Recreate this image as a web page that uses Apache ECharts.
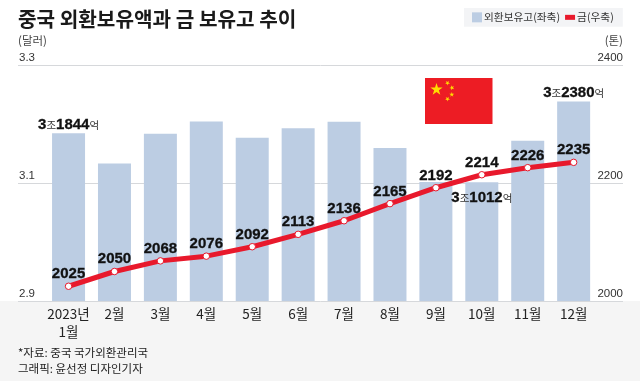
<!DOCTYPE html>
<html><head><meta charset="utf-8">
<style>html,body{margin:0;padding:0;background:#fff}#c{width:640px;height:381px}</style>
<script src="https://cdn.jsdelivr.net/npm/echarts@6/dist/echarts.min.js"></script>
</head><body><div id="c"></div>
<script>
const categories = ['2023년\n1월','2월','3월','4월','5월','6월','7월','8월','9월','10월','11월','12월'];
const reserves = [3.1844,3.133,3.1833,3.2042,3.1765,3.193,3.2037,3.1595,3.1015,3.1012,3.1714,3.238];
const gold = [2025,2050,2068,2076,2092,2113,2136,2165,2192,2214,2226,2235];
const reserveLabels = {0:['3','1844'],9:['3','1012'],11:['3','2380']};
const leftRange = [2.9,3.3], rightRange = [2000,2400];
const leftStep = 0.2, rightStep = 200;

const KR = '"Noto Sans CJK KR","Noto Sans",sans-serif';
const NUM = '"Liberation Sans",sans-serif';
const chart = echarts.init(document.getElementById('c'),null,{renderer:'canvas'});

function star(cx,cy,r,rot){
  const p=[];
  for(let i=0;i<10;i++){
    const a=rot-Math.PI/2+i*Math.PI/5, q=i%2?r*0.382:r;
    p.push([cx+q*Math.cos(a),cy+q*Math.sin(a)]);
  }
  return {type:'polygon',shape:{points:p},style:{fill:'#ffde00'},z:3};
}
const txt=(x,y,t,font,fill,align)=>({type:'text',x,y,z:3,style:{text:t,font,fill,align:align||'left',verticalAlign:'middle'}});

const barData = reserves.map((v,i)=>{
  const l=reserveLabels[i];
  if(!l) return v;
  return {value:v,label:{show:true,position:i===9?'insideTop':'top',distance:i===9?8:1,
    formatter:`{n|${l[0]}}{u|조}{n|${l[1]}}{u|억}`,
    rich:{n:{fontFamily:NUM,fontWeight:'bold',fontSize:15,color:'#111',textBorderColor:'#111',textBorderWidth:0.3},u:{fontFamily:KR,fontSize:10.5,color:'#333'}}}};
});

chart.setOption({
  animation:false,
  backgroundColor:'#fff',
  graphic:{elements:[
    {type:'rect',shape:{x:0,y:301,width:640,height:80},style:{fill:'#f5f5f5'},z:-10},
    txt(18,19,'중국 외환보유액과 금 보유고 추이','bold 20.2px '+KR,'#1a1a1a'),
    txt(18,41,'(달러)','11.5px '+KR,'#444'),
    txt(623,41,'(톤)','11.5px '+KR,'#444','right'),
    txt(18,353,'*자료: 중국 국가외환관리국','11.5px '+KR,'#222'),
    txt(18,369,'그래픽: 윤선정 디자인기자','11.5px '+KR,'#222'),
    {type:'rect',shape:{x:425,y:78,width:67.5,height:46},style:{fill:'#ed1c24'},z:3},
    star(436.5,89.5,6.5,0),
    star(447.5,83,2.6,0.5),star(452,87.8,2.6,0.9),star(451.8,94.6,2.6,0),star(447.5,99,2.6,0.5)
  ]},
  legend:{
    left:464,top:8,
    padding:[4,9,4,8],
    backgroundColor:'#f3f4f6',
    itemWidth:10,itemHeight:10,itemGap:5,
    symbolKeepAspect:true,
    textStyle:{fontFamily:KR,fontSize:10.7,color:'#333',padding:[0,0,0,-3]},
    data:[
      {name:'외환보유고(좌축)',icon:'rect',itemStyle:{color:'#bccde3'}},
      {name:'금(우축)',icon:'path://M0 0H20V10H0Z',itemStyle:{color:'#e8192c',borderWidth:0},lineStyle:{opacity:0}}
    ]
  },
  grid:[
    {left:18,right:17,top:65,height:236},
    {left:45.6,width:551,top:65,height:236}
  ],
  xAxis:[
    {type:'category',gridIndex:0,data:categories,show:false},
    {type:'category',gridIndex:1,data:categories,
      axisLine:{show:false},axisTick:{show:false},
      axisLabel:{fontFamily:KR,fontSize:13.5,color:'#222',margin:4,lineHeight:18,interval:0}}
  ],
  yAxis:[
    {type:'value',gridIndex:0,position:'left',min:leftRange[0],max:leftRange[1],interval:leftStep,
      axisLine:{show:false},axisTick:{show:false},
      splitLine:{lineStyle:{color:'#d6d8db',width:1}},
      axisLabel:{inside:true,margin:1,verticalAlign:'bottom',padding:[0,0,1,0],fontFamily:NUM,fontSize:11.5,color:'#333',
        formatter:v=>v.toFixed(1)}},
    {type:'value',gridIndex:0,position:'right',min:rightRange[0],max:rightRange[1],interval:rightStep,
      axisLine:{show:false},axisTick:{show:false},splitLine:{show:false},
      axisLabel:{inside:true,margin:0,verticalAlign:'bottom',padding:[0,0,1,0],fontFamily:NUM,fontSize:11.5,color:'#333',
        formatter:v=>String(v)}},
    {type:'value',gridIndex:1,position:'left',min:leftRange[0],max:leftRange[1],show:false},
    {type:'value',gridIndex:1,position:'right',min:rightRange[0],max:rightRange[1],show:false}
  ],
  series:[
    {name:'외환보유고(좌축)',type:'bar',xAxisIndex:1,yAxisIndex:2,data:barData,barWidth:33,
      itemStyle:{color:'#bccde3'},z:2},
    {name:'금(우축)',type:'line',xAxisIndex:1,yAxisIndex:3,data:gold,
      lineStyle:{color:'#e8192c',width:5},itemStyle:{color:'#fff',borderColor:'#e8192c',borderWidth:1},
      symbol:'circle',symbolSize:6.5,showSymbol:true,
      label:{show:true,position:'top',distance:1,fontFamily:NUM,fontWeight:'bold',fontSize:15,color:'#111',textBorderColor:'#111',textBorderWidth:0.3},z:3}
  ]
});
</script></body></html>
